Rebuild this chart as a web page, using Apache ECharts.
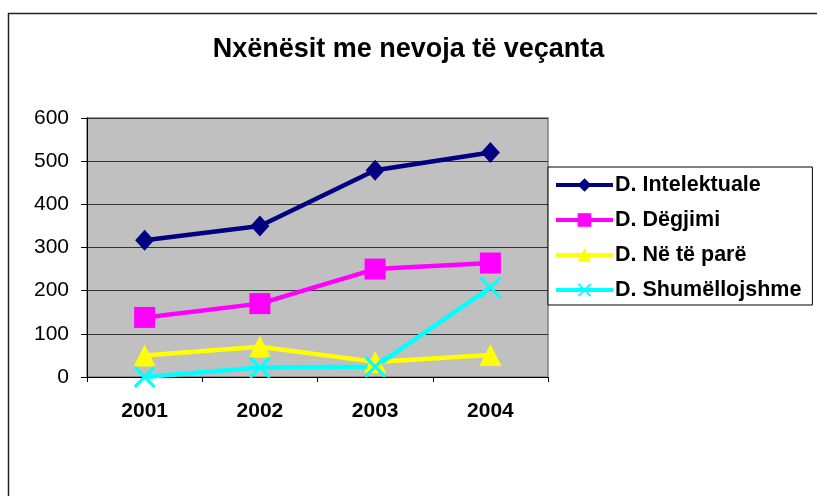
<!DOCTYPE html>
<html><head><meta charset="utf-8">
<script src="https://cdn.jsdelivr.net/npm/echarts@6/dist/echarts.min.js"></script>
<style>html,body{margin:0;padding:0;background:#fff}#c{width:817px;height:496px}</style>
</head><body><div id="c"></div>
<script>
const title = 'Nxënësit me nevoja të veçanta';
const years = ['2001', '2002', '2003', '2004'];
const seriesNames = ['D. Intelektuale', 'D. Dëgjimi', 'D. Në të parë', 'D. Shumëllojshme'];
const intelektuale = [317, 350, 479, 520];
const degjimi = [138, 170, 250, 264];
const neTePare = [50, 70, 35, 51];
const shumellojshme = [0, 22, 24, 207];
const yTicks = [0, 100, 200, 300, 400, 500, 600];

const colors = ['#000080', '#ff00ff', '#ffff00', '#00ffff'];
const symbols = ['diamond', 'rect', 'triangle',
  'path://M0,1L1,0L5,4L9,0L10,1L6,5L10,9L9,10L5,6L1,10L0,9L4,5Z'];
const sizes = [[19, 21], 21, 22, 22];
const datas = [intelektuale, degjimi, neTePare, shumellojshme];
const font = 'Liberation Sans, Arial, sans-serif';

const chart = echarts.init(document.getElementById('c'), null, {renderer: 'canvas'});
chart.setOption({
  animation: false,
  backgroundColor: '#fff',
  title: {
    text: title, left: 'center', top: 31,
    textStyle: {fontFamily: font, fontWeight: 'bold', fontSize: 27, color: '#000'}
  },
  graphic: [{
    type: 'polyline', z: 100,
    shape: {points: [[8.5, 500], [8.5, 13.5], [820, 13.5]]},
    style: {stroke: '#222', lineWidth: 1.5, fill: null}
  }],
  grid: {left: 87, top: 118, width: 461, height: 259,
    show: true, backgroundColor: '#c0c0c0', borderColor: '#808080', borderWidth: 1.5},
  legend: {
    orient: 'vertical', left: 548, top: 167,
    backgroundColor: '#fff', borderColor: '#000', borderWidth: 1,
    padding: [7, 11, 4, 6], itemGap: 13, itemWidth: 57, itemHeight: 17,
    lineStyle: {width: 4},
    textStyle: {fontFamily: font, fontWeight: 'bold', fontSize: 21.5, color: '#000', padding: [0, 0, 0, -3]},
    data: seriesNames
  },
  xAxis: {
    type: 'category', data: years, boundaryGap: true,
    axisLine: {lineStyle: {color: '#000', width: 1}},
    axisTick: {show: true, length: 5, lineStyle: {color: '#000'}},
    axisLabel: {fontFamily: font, fontWeight: 'bold', fontSize: 21, color: '#000', margin: 24},
    splitLine: {show: false}
  },
  yAxis: {
    type: 'value', min: yTicks[0], max: yTicks[yTicks.length - 1], interval: 100,
    axisLine: {show: true, lineStyle: {color: '#000', width: 1}},
    axisTick: {show: true, length: 6, lineStyle: {color: '#000'}},
    axisLabel: {fontFamily: font, fontSize: 21, color: '#000', margin: 18},
    splitLine: {show: true, lineStyle: {color: '#333', width: 1}}
  },
  series: seriesNames.map((n, i) => ({
    name: n, type: 'line', data: datas[i],
    symbol: symbols[i], symbolSize: sizes[i],
    lineStyle: {color: colors[i], width: 4.5},
    itemStyle: {color: colors[i]},
    emphasis: {disabled: true}
  }))
});
</script></body></html>
